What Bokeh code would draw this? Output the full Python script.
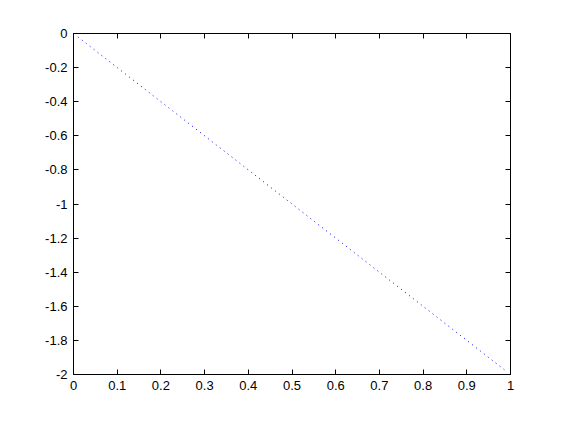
from bokeh.plotting import figure
from bokeh.models import Range1d, LinearAxis, FixedTicker
from bokeh.embed import file_html
from bokeh.resources import INLINE

# data
line_x = [0.01, 0.99]
line_y = [-0.02, -1.98]
x_ticks = [0, 0.1, 0.2, 0.3, 0.4, 0.5, 0.6, 0.7, 0.8, 0.9, 1]
x_labels = ["0", "0.1", "0.2", "0.3", "0.4", "0.5", "0.6", "0.7", "0.8", "0.9", "1"]
y_ticks = [0, -0.2, -0.4, -0.6, -0.8, -1, -1.2, -1.4, -1.6, -1.8, -2]
y_labels = ["0", "-0.2", "-0.4", "-0.6", "-0.8", "-1", "-1.2", "-1.4", "-1.6", "-1.8", "-2"]

p = figure(width=554, height=414, output_backend="svg", toolbar_location=None,
           x_range=Range1d(0, 1), y_range=Range1d(-2, 0),
           x_axis_location=None, y_axis_location=None)
p.frame_width = 437
p.frame_height = 341
p.min_border_left = 73
p.min_border_right = 44
p.min_border_top = 33
p.min_border_bottom = 40
p.grid.visible = False
p.outline_line_color = "black"
p.outline_line_width = 1
p.background_fill_color = "white"
p.border_fill_color = "white"

FONT = "Liberation Sans"

def make_axis(ticks, labels, show):
    ax = LinearAxis(ticker=FixedTicker(ticks=ticks))
    ax.major_label_overrides = {t: l for t, l in zip(ticks, labels)}
    ax.major_tick_in = 5
    ax.major_tick_out = 0
    ax.minor_tick_in = 0
    ax.minor_tick_out = 0
    ax.axis_line_color = "black"
    ax.major_tick_line_color = "black"
    ax.major_label_text_font = FONT
    ax.major_label_text_font_size = "13px"
    ax.major_label_text_color = "black" if show else None
    ax.major_label_standoff = 6
    return ax

p.add_layout(make_axis(x_ticks, x_labels, True), "below")
p.add_layout(make_axis(y_ticks, y_labels, True), "left")
p.add_layout(make_axis(x_ticks, x_labels, False), "above")
p.add_layout(make_axis(y_ticks, y_labels, False), "right")

p.line(line_x, line_y, line_color="blue", line_width=1, line_dash="1 4")

open("out.html", "w").write(file_html(p, INLINE))
